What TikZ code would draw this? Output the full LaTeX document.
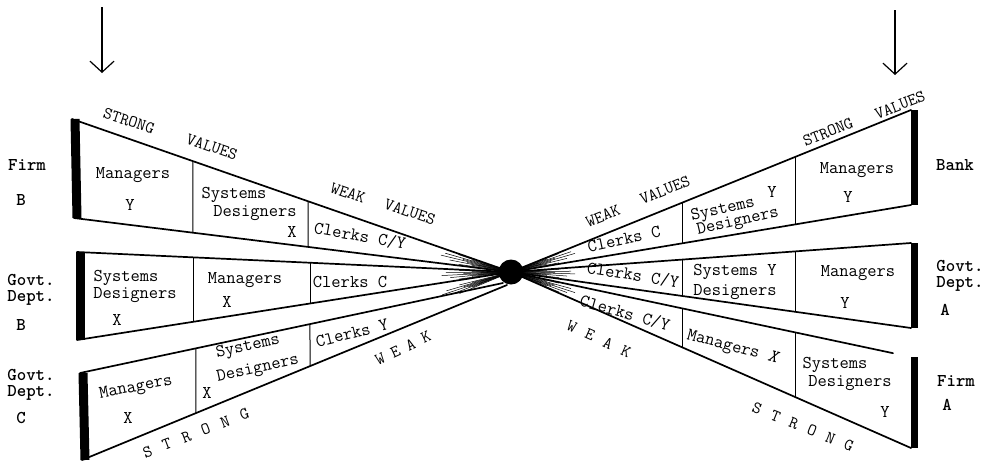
\documentclass[tikz,border=0pt]{standalone}
\usetikzlibrary{calc,arrows.meta}
\tikzset{
  edge/.style={line width=1.7pt, line cap=round},
  divider/.style={line width=1pt},
  barL/.style={line width=9pt},
  barR/.style={line width=7pt},
  hatch/.style={line width=0.5pt},
  cell/.style={font=\fontsize{18}{17}\selectfont\ttfamily, inner sep=0pt},
  val/.style={font=\fontsize{17}{17}\selectfont\ttfamily, inner sep=0pt},
  org/.style={font=\fontsize{18}{15}\selectfont\ttfamily\bfseries, inner sep=0pt},
  downarrow/.style={line width=1.2pt, -{Straight Barb[length=11pt,width=24pt,line width=1.2pt]}}
}
\begin{document}
\begin{tikzpicture}[x=1pt,y=-1pt]
\useasboundingbox (0,0) rectangle (990,461);
% centre
\coordinate (C) at (511,272);
% left far corners
\coordinate (fbA) at (72,119);  \coordinate (fbB) at (74,218);
\coordinate (gbA) at (77,252);  \coordinate (gbB) at (77,340);
\coordinate (gcA) at (80,373);  \coordinate (gcB) at (82,460);
\coordinate (gcE) at (503,283); \coordinate (gcF) at (507,285);
% right far corners
\coordinate (bkA) at (911,110); \coordinate (bkB) at (911,205);
\coordinate (gaA) at (911,243); \coordinate (gaB) at (911,328);
\coordinate (faA) at (911,357); \coordinate (faB) at (911,448);

% hatching near the centre
\foreach \w in {fb,gb,gc,bk,ga,fa}{
  \foreach \s/\r in {0.08/0.12,0.18/0.09,0.28/0.15,0.38/0.11,0.48/0.16,0.58/0.1,0.68/0.14,0.78/0.09,0.9/0.12,0.33/0.07,0.63/0.075}{
    \coordinate (tmp) at ($(\w A)!\s!(\w B)$);
    \draw[hatch] ($(C)!0.02!(tmp)$) -- ($(C)!\r!(tmp)$);
  }
}

% wedge edges
\draw[edge] (C) -- (fbA); \draw[edge] (C) -- (fbB);
\draw[edge] (C) -- (gbA); \draw[edge] (C) -- (gbB);
\draw[edge] (gcE) -- (gcA); \draw[edge] (gcF) -- (gcB);
\draw[edge] (C) -- (bkA); \draw[edge] (C) -- (bkB);
\draw[edge] (C) -- (gaA); \draw[edge] (C) -- (gaB);
\coordinate (faAe) at ($(C)!0.955!(faA)$);
\draw[edge] (C) -- (faAe); \draw[edge] (C) -- (faB);

% thick end bars
\draw[barL] ([xshift=3pt]fbA) -- ([xshift=3pt]fbB);
\draw[barL] ([xshift=3pt]gbA) -- ([xshift=3pt]gbB);
\draw[barL] ([xshift=3pt]gcA) -- ([xshift=3pt]gcB);
\draw[barR] ([xshift=3pt]bkA) -- ([xshift=3pt]bkB);
\draw[barR] ([xshift=3pt]gaA) -- ([xshift=3pt]gaB);
\draw[barR] ([xshift=3pt]faA) -- ([xshift=3pt]faB);

% dividers, left
\draw[divider] ($(fbA)!0.2756!(C)$) -- ($(fbB)!0.2723!(C)$);
\draw[divider] ($(fbA)!0.5376!(C)$) -- ($(fbB)!0.5355!(C)$);
\draw[divider] ($(gbA)!0.2673!(C)$) -- ($(gbB)!0.2673!(C)$);
\draw[divider] ($(gbA)!0.5369!(C)$) -- ($(gbB)!0.5369!(C)$);
\draw[divider] ($(gcA)!0.2742!(gcE)$) -- ($(gcB)!0.2682!(gcF)$);
\draw[divider] ($(gcA)!0.5437!(gcE)$) -- ($(gcB)!0.5365!(gcF)$);
% dividers, right
\foreach \w in {bk,ga,fa}{
  \draw[divider] ($(C)!0.4275!(\w A)$) -- ($(C)!0.4275!(\w B)$);
  \draw[divider] ($(C)!0.71!(\w A)$) -- ($(C)!0.71!(\w B)$);
}

% centre dot
\fill (C) circle[radius=12.5pt];

% arrows
\coordinate (arL0) at (102,7);  \coordinate (arL1) at (102,73);
\coordinate (arR0) at (895,10); \coordinate (arR1) at (895,75);
\draw[downarrow] (arL0) -- (arL1);
\draw[downarrow] (arR0) -- (arR1);

% ---- Firm B
\node[cell] (fbM)  at (133,175) {Managers};
\node[cell] (fbMy) at (130,205) {Y};
\node[cell] (fbS1) at (234,195) {Systems};
\node[cell] (fbS2) at (255,213) {Designers};
\node[cell] (fbSx) at (292,232) {X};
\node[cell,rotate=-10] (fbC) at (360,236) {Clerks C/Y};
% ---- Govt Dept B
\node[cell] (gbS1) at (126,278) {Systems};
\node[cell] (gbS2) at (135,295) {Designers};
\node[cell] (gbSx) at (117,320) {X};
\node[cell] (gbM)  at (245,280) {Managers};
\node[cell] (gbMx) at (227,302) {X};
\node[cell] (gbC)  at (350,282) {Clerks C};
% ---- Govt Dept C
\node[cell,rotate=11] (gcM)  at (136,388) {Managers};
\node[cell] (gcMx) at (128,418) {X};
\node[cell,rotate=12] (gcS1) at (248,347) {Systems};
\node[cell,rotate=12] (gcS2) at (258,369) {Designers};
\node[cell] (gcSx) at (207,393) {X};
\node[cell,rotate=14] (gcC)  at (352,333) {Clerks Y};
% ---- Bank
\node[cell,rotate=12] (bkC)  at (624,239) {Clerks C};
\node[cell,rotate=13] (bkS1) at (723,210) {Systems};
\node[cell] (bkSy) at (772,192) {Y};
\node[cell,rotate=13] (bkS2) at (738,222) {Designers};
\node[cell] (bkM)  at (857,170) {Managers};
\node[cell] (bkMy) at (848,197) {Y};
% ---- Govt Dept A
\node[cell,rotate=-9] (gaC) at (633,275) {Clerks C/Y};
\node[cell] (gaS1) at (735,272) {Systems Y};
\node[cell] (gaS2) at (735,292) {Designers};
\node[cell] (gaM)  at (858,273) {Managers};
\node[cell] (gaMy) at (845,303) {Y};
% ---- Firm A
\node[cell,rotate=-16] (faC) at (625,313) {Clerks C/Y};
\node[cell,rotate=-15] (faM) at (733,348) {Managers \textit{X}};
\node[cell] (faS1) at (835,365) {Systems};
\node[cell] (faS2) at (850,383) {Designers};
\node[cell] (faSy) at (885,412) {Y};

% ---- value labels
\node[val,rotate=-18] (v1) at (129,121) {STRONG};
\node[val,rotate=-19] (v2) at (212,147) {VALUES};
\node[val,rotate=-19] (v3) at (348,193) {WEAK};
\node[val,rotate=-19] (v4) at (410,212) {VALUES};
\node[val,rotate=22] (v5) at (603,216) {WEAK};
\node[val,rotate=22] (v6) at (665,190) {VALUES};
\node[val,rotate=22] (v7) at (828,132) {STRONG};
\node[val,rotate=21] (v8) at (900,105) {VALUES};
\node[val,rotate=25] (v9) at (403,348) {W\hspace{8pt}E\hspace{8pt}A\hspace{8pt}K};
\node[val,rotate=21] (v10) at (196,433) {S\hspace{12pt}T\hspace{12pt}R\hspace{12pt}O\hspace{12pt}N\hspace{12pt}G};
\node[val,rotate=-24] (v11) at (599,339) {W\hspace{11pt}E\hspace{11pt}A\hspace{11pt}K};
\node[val,rotate=-22] (v12) at (803,427) {S\hspace{11pt}T\hspace{11pt}R\hspace{11pt}O\hspace{11pt}N\hspace{11pt}G};

% ---- organisation labels
\node[org] (lFirm) at (27,165) {Firm};
\node[org] (lFirmB) at (21,200) {B};
\node[org] (lGovB1) at (31,280) {Govt.};
\node[org] (lGovB2) at (31,298) {Dept.};
\node[org] (lGovB3) at (21,325) {B};
\node[org] (lGovC1) at (31,375) {Govt.};
\node[org] (lGovC2) at (31,393) {Dept.};
\node[org] (lGovC3) at (21,418) {C};
\node[org] (rBank) at (955,165) {Bank};
\node[org] (rGovA1) at (960,266) {Govt.};
\node[org] (rGovA2) at (960,284) {Dept.};
\node[org] (rGovA3) at (945,310) {A};
\node[org] (rFirm) at (956,381) {Firm};
\node[org] (rFirmA) at (947,405) {A};
\end{tikzpicture}
\end{document}
